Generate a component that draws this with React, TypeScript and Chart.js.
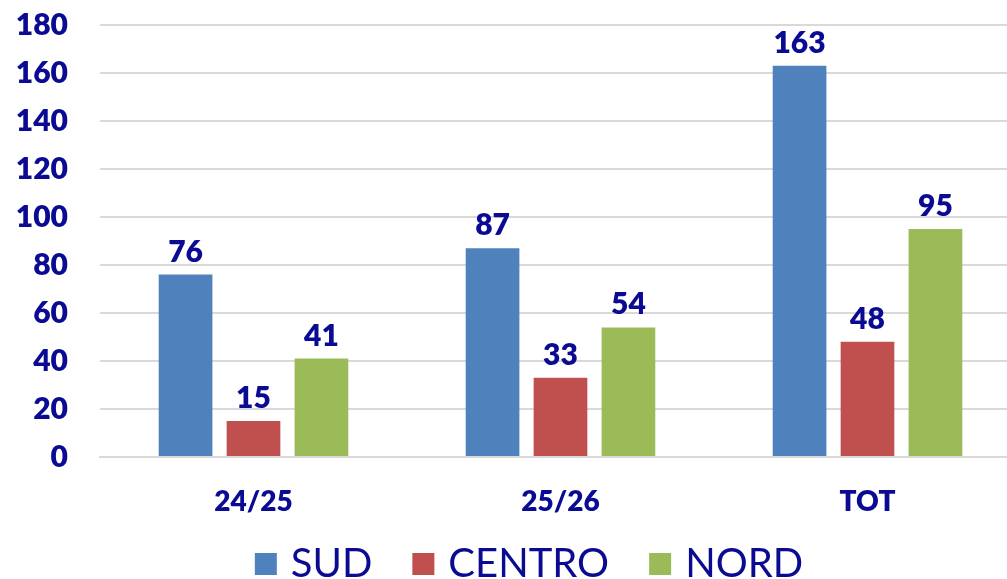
import React, { useEffect, useRef } from "react";
import { Chart, registerables } from "chart.js";

Chart.register(...registerables);

const categories = ["24/25", "25/26", "TOT"];
const sud = [76, 87, 163];
const centro = [15, 33, 48];
const nord = [41, 54, 95];
const seriesNames = ["SUD", "CENTRO", "NORD"];
const seriesColors = ["#4F81BD", "#C0504D", "#9BBB59"];
const yMin = 0;
const yMax = 180;
const yStep = 20;

const NAVY = "#0A0A92";
const FONT = "Lato, 'Open Sans', sans-serif";
const HEAVY = 800;
const LEGEND_CENTER_X = 529;
const LEGEND_BASELINE = 577;

const valueLabels = {
  id: "valueLabels",
  afterDatasetsDraw(chart: any) {
    const ctx = chart.ctx;
    ctx.save();
    ctx.fillStyle = NAVY;
    ctx.font = `${HEAVY} 30px ${FONT}`;
    ctx.textAlign = "center";
    ctx.textBaseline = "alphabetic";
    chart.data.datasets.forEach((ds: any, i: number) => {
      const meta = chart.getDatasetMeta(i);
      meta.data.forEach((bar: any, j: number) => {
        ctx.fillText(String(ds.data[j]), bar.x, bar.y - 13);
      });
    });
    ctx.restore();
  },
};

const customLegend = {
  id: "customLegend",
  afterDraw(chart: any) {
    const ctx = chart.ctx;
    ctx.save();
    ctx.font = `40px ${FONT}`;
    const box = 22;
    const gapBoxText = 14;
    const gapItems = 40;
    const items = chart.data.datasets.map((ds: any) => ({
      label: ds.label,
      color: ds.backgroundColor,
      w: ctx.measureText(ds.label).width,
    }));
    const total =
      items.reduce((a: number, it: any) => a + box + gapBoxText + it.w, 0) +
      gapItems * (items.length - 1);
    let x = LEGEND_CENTER_X - total / 2;
    ctx.textBaseline = "alphabetic";
    ctx.textAlign = "left";
    items.forEach((it: any) => {
      ctx.fillStyle = it.color;
      ctx.fillRect(x, LEGEND_BASELINE - 24, box, box);
      x += box + gapBoxText;
      ctx.fillStyle = NAVY;
      ctx.fillText(it.label, x, LEGEND_BASELINE);
      x += it.w + gapItems;
    });
    ctx.restore();
  },
};

export default function App() {
  const ref = useRef<HTMLCanvasElement>(null);
  useEffect(() => {
    document.body.style.margin = "0";
    document.body.style.overflow = "hidden";
    const data = [sud, centro, nord];
    const chart = new Chart(ref.current!, {
      type: "bar",
      data: {
        labels: categories,
        datasets: seriesNames.map((name, i) => ({
          label: name,
          data: data[i],
          backgroundColor: seriesColors[i],
          borderWidth: 0,
          categoryPercentage: 0.664,
          barPercentage: 0.79,
        })),
      },
      options: {
        responsive: false,
        animation: false,
        layout: { autoPadding: false, padding: { top: 25, left: 0, right: 0, bottom: 54 } },
        plugins: {
          tooltip: { enabled: false },
          legend: { display: false },
        },
        scales: {
          x: {
            grid: { display: false },
            border: { display: true, color: "#D9D9D9", width: 2 },
            ticks: {
              color: NAVY,
              padding: 20,
              font: { family: FONT, size: 28, weight: HEAVY },
            },
            afterFit: (s: any) => {
              s.height = 68;
              s.paddingLeft = 0;
              s.paddingRight = 0;
            },
          },
          y: {
            min: yMin,
            max: yMax,
            grid: { color: "#D9D9D9", lineWidth: 2, drawTicks: false },
            border: { display: false },
            ticks: {
              stepSize: yStep,
              color: NAVY,
              padding: 32,
              font: { family: FONT, size: 30, weight: HEAVY },
            },
            afterFit: (s: any) => {
              s.width = 100;
              s.paddingTop = 0;
              s.paddingBottom = 0;
            },
          },
        },
      },
      plugins: [valueLabels, customLegend],
    });
    return () => chart.destroy();
  }, []);
  return (
    <div style={{ width: 1021, height: 579 }}>
      <canvas ref={ref} width={1021} height={579} style={{ width: 1021, height: 579 }} />
    </div>
  );
}
